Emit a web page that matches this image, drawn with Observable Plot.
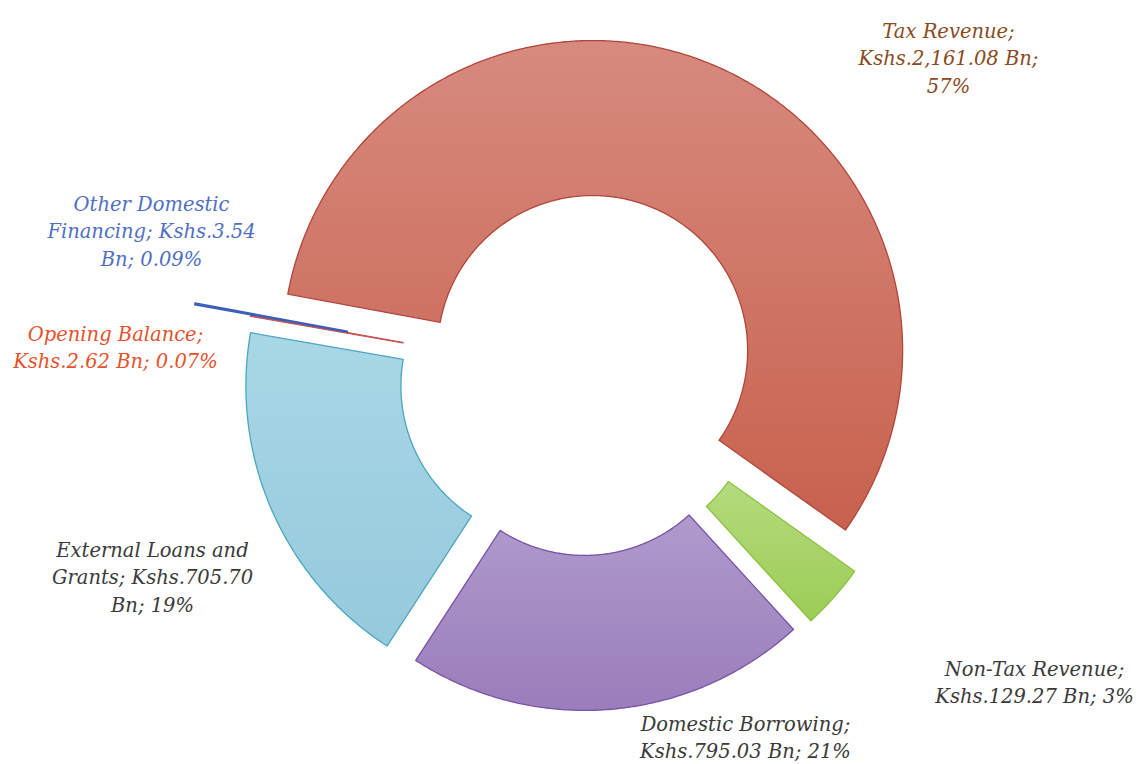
<!DOCTYPE html>
<html><head><meta charset="utf-8">
<script src="https://cdn.jsdelivr.net/npm/d3@7"></script>
<script src="https://cdn.jsdelivr.net/npm/@observablehq/plot@0.6"></script>
<style>html,body{margin:0;padding:0;background:#fff;} #chart{width:1138px;height:764px;}</style>
</head><body><div id="chart"></div>
<script>
// ---- data ----
const categories = ["Tax Revenue", "Non-Tax Revenue", "Domestic Borrowing", "External Loans and Grants", "Opening Balance", "Other Domestic Financing"];
const values = [2161.08, 129.27, 795.03, 705.70, 2.62, 3.54];
const valueLabels = ["2,161.08", "129.27", "795.03", "705.70", "2.62", "3.54"];
const percentLabels = ["57%", "3%", "21%", "19%", "0.07%", "0.09%"];

// ---- layout / style ----
const W = 1138, H = 764;
const CX = 582, CY = 374, R_OUT = 310, R_IN = 155, START_DEG = -79.5;
const explode = [26, 26, 26, 29, 27, 84];
const wrapWidth = [17, 18, 19, 19, 19, 20];
const labelX = [948, 1034, 745, 152, 115, 151];
const labelY = [56, 680, 735, 575, 345, 229];
const fillTop = ["#d78a7f", "#b4db7e", "#af9acd", "#a9d7e6", "#d9534a", "#4a6fc6"];
const fillBottom = ["#c8614e", "#9dcc56", "#9a7dbb", "#95c9dc", "#d9534a", "#4a6fc6"];
const strokes = ["#b2463a", "#8cc23f", "#7a52a6", "#4aa6c1", "#c0504d", "#3d5db8"];
const strokeWidths = [1.3, 1.3, 1.3, 1.3, 1, 1.4];
const labelColors = ["#8a4a1e", "#3a3a3a", "#3a3a3a", "#3a3a3a", "#e4522b", "#4f6fc4"];

function wrap(str, width) {
  const words = str.split(" ");
  const lines = [];
  let cur = "";
  for (const w of words) {
    if (!cur) cur = w;
    else if ((cur + " " + w).length <= width) cur += " " + w;
    else { lines.push(cur); cur = w; }
  }
  if (cur) lines.push(cur);
  return lines.join("\n");
}

const total = d3.sum(values);
let acc = 0;
const slices = values.map((v, i) => {
  const a0 = START_DEG + acc / total * 360;
  acc += v;
  const a1 = START_DEG + acc / total * 360;
  return {i, a0, a1};
});

function pt(cx, cy, rho, deg) {
  const t = deg * Math.PI / 180;
  return [cx + rho * Math.sin(t), cy - rho * Math.cos(t)];
}

const polys = slices.map(s => {
  const mid = (s.a0 + s.a1) / 2;
  const [ox, oy] = pt(0, 0, explode[s.i], mid);
  const cx = CX + ox, cy = CY + oy;
  const n = Math.max(2, Math.ceil((s.a1 - s.a0) / 0.5) + 1);
  const pts = [];
  for (let k = 0; k < n; k++) {
    const a = s.a0 + (s.a1 - s.a0) * k / (n - 1);
    const [x, y] = pt(cx, cy, R_OUT, a);
    pts.push({x, y, cat: categories[s.i]});
  }
  for (let k = n - 1; k >= 0; k--) {
    const a = s.a0 + (s.a1 - s.a0) * k / (n - 1);
    const [x, y] = pt(cx, cy, R_IN, a);
    pts.push({x, y, cat: categories[s.i]});
  }
  pts.push(pts[0]);
  return pts;
});

const labels = categories.map((c, i) => ({
  x: labelX[i], y: labelY[i], color: labelColors[i],
  text: wrap(`${c}; Kshs.${valueLabels[i]} Bn; ${percentLabels[i]}`, wrapWidth[i])
}));

const marks = polys.map((p, i) => Plot.line(p, {
  x: "x", y: "y", fill: `url(#grad${i})`, stroke: strokes[i], strokeWidth: strokeWidths[i],
  curve: "linear-closed", strokeLinejoin: "round"
}));

marks.push(Plot.text(labels, {
  x: "x", y: "y", text: "text", fill: "color",
  fontSize: 19.5, fontStyle: "italic", fontFamily: "DejaVu Serif",
  lineHeight: 1.41, textAnchor: "middle", lineAnchor: "middle"
}));

const chart = Plot.plot({
  width: W, height: H, margin: 0,
  style: {background: "#fff", overflow: "visible"},
  x: {domain: [0, W], range: [0, W], axis: null},
  y: {domain: [0, H], range: [0, H], axis: null},
  marks
});

const defs = d3.select(chart).insert("defs", ":first-child");
fillTop.forEach((c, i) => {
  const g = defs.append("linearGradient").attr("id", `grad${i}`)
    .attr("x1", 0).attr("y1", 0).attr("x2", 0).attr("y2", 1);
  g.append("stop").attr("offset", "0%").attr("stop-color", c);
  g.append("stop").attr("offset", "100%").attr("stop-color", fillBottom[i]);
});

document.getElementById("chart").appendChild(chart);
</script>
</body></html>
